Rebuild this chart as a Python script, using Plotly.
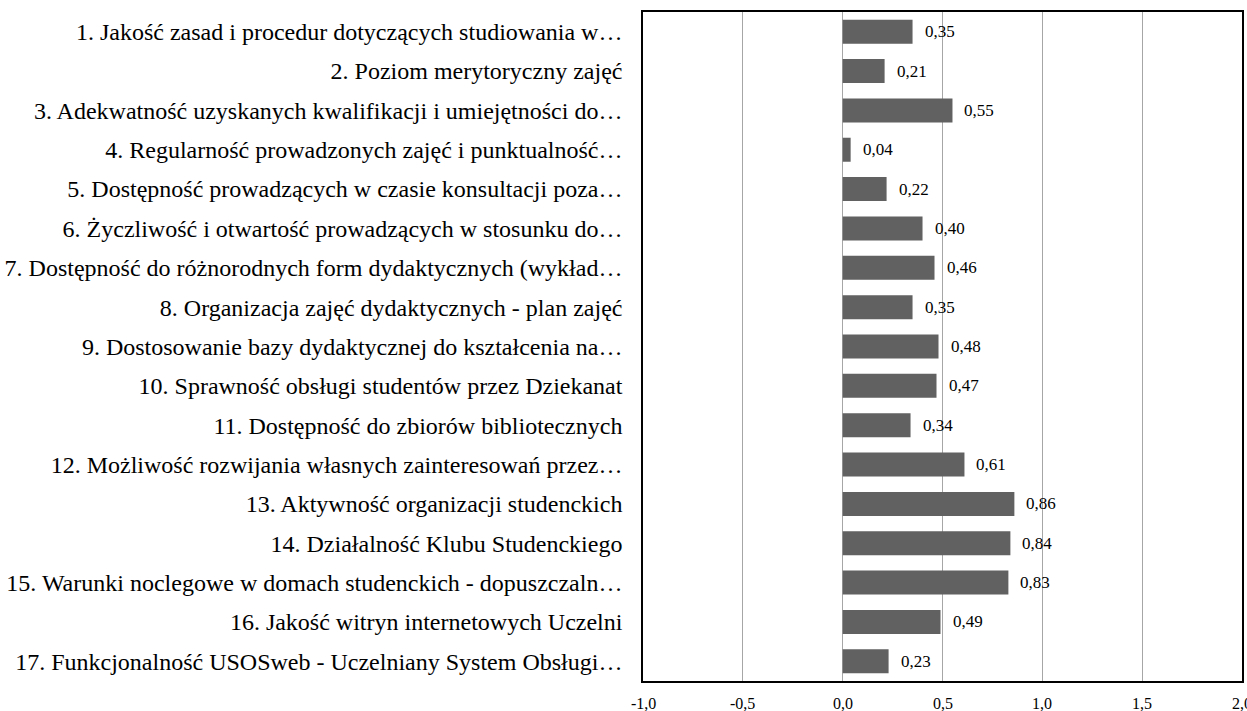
import plotly.graph_objects as go

categories = [
    "1. Jakość zasad i procedur dotyczących studiowania w…",
    "2. Poziom merytoryczny zajęć",
    "3. Adekwatność uzyskanych kwalifikacji i umiejętności do…",
    "4. Regularność prowadzonych zajęć i punktualność…",
    "5. Dostępność prowadzących w czasie konsultacji poza…",
    "6. Życzliwość i otwartość prowadzących w stosunku do…",
    "7. Dostępność do różnorodnych form dydaktycznych (wykład…",
    "8. Organizacja zajęć dydaktycznych - plan zajęć",
    "9. Dostosowanie bazy dydaktycznej do kształcenia na…",
    "10. Sprawność obsługi studentów przez Dziekanat",
    "11. Dostępność do zbiorów bibliotecznych",
    "12. Możliwość rozwijania własnych zainteresowań przez…",
    "13. Aktywność organizacji studenckich",
    "14. Działalność Klubu Studenckiego",
    "15. Warunki noclegowe w domach studenckich - dopuszczaln…",
    "16. Jakość witryn internetowych Uczelni",
    "17. Funkcjonalność USOSweb - Uczelniany System Obsługi…",
]
values = [0.35, 0.21, 0.55, 0.04, 0.22, 0.40, 0.46, 0.35, 0.48, 0.47,
          0.34, 0.61, 0.86, 0.84, 0.83, 0.49, 0.23]

tick_vals = [-1.0, -0.5, 0.0, 0.5, 1.0, 1.5, 2.0]
tick_text = ["-1,0", "-0,5", "0,0", "0,5", "1,0", "1,5", "2,0"]

FONT = "Liberation Serif, Times New Roman, serif"

fig = go.Figure(
    go.Bar(
        x=values,
        y=categories,
        orientation="h",
        marker=dict(color="#616161", line=dict(width=0)),
        hoverinfo="x+y",
    )
)

# value labels to the right of each bar
for cat, v in zip(categories, values):
    fig.add_annotation(
        x=v, y=cat, text=f"{v:.2f}".replace(".", ","),
        xanchor="left", yanchor="middle", xshift=10, yshift=0,
        showarrow=False,
        font=dict(family=FONT, size=17, color="#000000"),
    )

# x tick labels drawn as annotations so the last one may run off the page edge
for tv, tt in zip(tick_vals, tick_text):
    fig.add_annotation(
        x=tv, y=0, xref="x", yref="paper", text=tt,
        xanchor="center", yanchor="middle", yshift=-22,
        showarrow=False,
        font=dict(family=FONT, size=16, color="#000000"),
    )

fig.update_layout(
    width=1247, height=711,
    margin=dict(l=643, r=3, t=12, b=30),
    paper_bgcolor="white", plot_bgcolor="white",
    bargap=0.39,
    showlegend=False,
    font=dict(family=FONT, color="#000000"),
)

fig.update_xaxes(
    range=[-1.0, 2.0],
    tickvals=tick_vals, showticklabels=False,
    showgrid=True, gridcolor="#a6a6a6", gridwidth=1,
    zeroline=True, zerolinecolor="#a6a6a6", zerolinewidth=1,
    showline=True, linecolor="#000000", linewidth=1.5, mirror=True,
    ticks="",
)
fig.update_yaxes(
    autorange="reversed",
    tickfont=dict(family=FONT, size=24, color="#000000"),
    showgrid=False, zeroline=False,
    showline=True, linecolor="#000000", linewidth=1.5, mirror=True,
    ticks="", ticklabelstandoff=14,
)

fig.write_html("out.html")
